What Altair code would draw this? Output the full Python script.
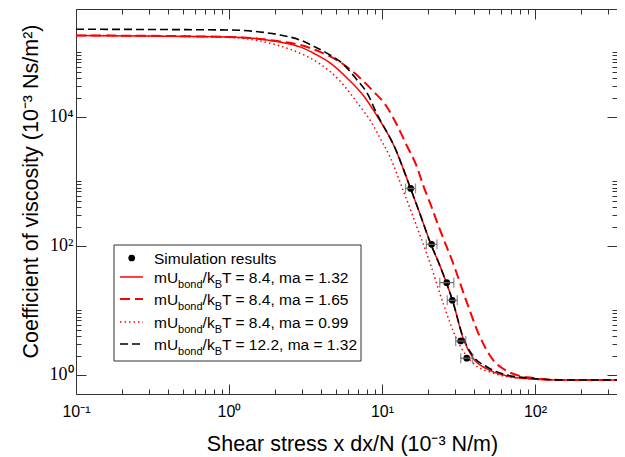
import altair as alt
import pandas as pd

# ---------------- data ----------------
sim_x = [15.4, 21.1, 26.5, 28.8, 32.7, 35.8]
sim_y = [779, 106, 27.0, 14.4, 3.37, 1.82]
sim_xlo = [14.25, 19.5, 23.85, 26.7, 30.3, 32.7]
sim_xhi = [16.55, 22.85, 29.45, 31.05, 35.25, 39.15]

solid_x = [0.1, 1, 1.594, 2.154, 2.911, 3.649, 4.573, 5.904, 7.512, 9.275, 12.16, 15.24,
           17.72, 20.60, 23.94, 29.11, 33.84, 39.34, 48.56, 65.61, 97.03, 145.7, 400]
solid_y = [1.84e5, 1.74e5, 1.62e5, 1.45e5, 1.22e5, 9.48e4, 6.88e4, 4.03e4, 2.19e4, 1.04e4,
           3310, 822, 313, 115, 49.0, 13.5, 3.75, 1.83, 1.24, 0.965, 0.867, 0.837, 0.835]

dash_x = [0.1, 1, 1.594, 2.154, 2.911, 3.934, 5.315, 7.181, 8.734, 10.78, 12.53, 14.57, 16.93,
          18.54, 20.60, 23.94, 29.11, 35.94, 43.71, 53.15, 65.61, 79.8, 97.03, 145.7, 400]
dash_y = [1.84e5, 1.74e5, 1.62e5, 1.48e5, 1.31e5, 1.02e5, 7.12e4, 4.03e4, 2.53e4, 1.43e4, 7510,
          3550, 1680, 883, 464, 177, 54.5, 13.1, 3.88, 1.71, 1.15, 0.965, 0.899, 0.837, 0.835]

dot_x = [0.1, 1, 1.594, 2.154, 2.783, 3.934, 5.315, 6.464, 7.743, 8.349, 9.703, 11.28, 13.72,
         17.19, 20.60, 25.04, 30.92, 39.34, 53.15, 76.27, 145.7, 400]
dot_y = [1.84e5, 1.71e5, 1.51e5, 1.26e5, 1.02e5, 6.63e4, 3.61e4, 2.04e4, 1.15e4, 8980, 4720,
         2400, 738, 177, 54.5, 13.1, 3.49, 1.53, 1.07, 0.899, 0.837, 0.835]

black_x = [0.1, 1, 1.594, 2.154, 2.911, 3.649, 4.573, 5.561, 6.864, 7.980, 9.275, 12.16, 15.24,
           17.72, 20.60, 23.94, 29.11, 33.84, 39.34, 48.56, 65.61, 97.03, 145.7, 400]
black_y = [2.29e5, 2.23e5, 2.08e5, 1.87e5, 1.56e5, 1.22e5, 9.15e4, 6.63e4, 3.75e4, 2.36e4,
           1.11e4, 3310, 822, 313, 115, 49.0, 13.5, 3.88, 1.97, 1.33, 1.0, 0.883, 0.837, 0.835]

ubond_vals = ["8.4", "8.4", "8.4", "12.2"]
ma_vals = ["1.32", "1.65", "0.99", "1.32"]
sim_label = "Simulation results"

x_major = [0.1, 1, 10, 100]
y_major = [1, 100, 10000]

# ---------------- layout ----------------
W, H = 541, 385
XMIN, XMAX = 0.1, 343.5
YMIN, YMAX = 0.507, 4.72e5
x_minor = [k * 10 ** e for e in (-1, 0, 1, 2) for k in range(2, 10) if k * 10 ** e <= XMAX]
y_minor = [k * 10 ** e for e in (0, 2, 4) for k in range(2, 11)]
x_ticks = x_major + x_minor
y_ticks = y_major + y_minor

xs = alt.Scale(type="log", domain=[XMIN, XMAX], nice=False)
ys = alt.Scale(type="log", domain=[YMIN, YMAX], nice=False)
AX = "#333333"
SANS = "Liberation Sans"

sim_df = pd.DataFrame({"x": sim_x, "y": sim_y, "xlo": sim_xlo, "xhi": sim_xhi})

x_tick_size = {"condition": {"test": "indexof([0.1,1,10,100], datum.value) >= 0", "value": 10}, "value": 5}
y_tick_size = {"condition": {"test": "indexof([1,100,10000], datum.value) >= 0", "value": 10}, "value": 5}


def invisible(xaxis, yaxis):
    return alt.Chart(sim_df).mark_point(opacity=0).encode(
        x=alt.X("x:Q", scale=xs, axis=xaxis),
        y=alt.Y("y:Q", scale=ys, axis=yaxis),
    )


main_axes = invisible(
    alt.Axis(orient="bottom", values=x_major, grid=False, ticks=False, tickSize=0,
             domain=True, domainColor=AX, domainWidth=1,
             labelExpr="datum.value < 0.5 ? '10⁻¹' : datum.value < 5 ? '10⁰' : datum.value < 50 ? '10¹' : '10²'",
             labelFont=SANS, labelFontSize=16, labelColor="black", labelPadding=9,
             labelFlush=False, labelOverlap=False,
             title="Shear stress x dx/N (10⁻³ N/m)", titleFont=SANS, titleFontSize=21.5,
             titleFontWeight="normal", titleColor="black", titleX=276, titleY=56,
             titleBaseline="alphabetic", titleAlign="center"),
    alt.Axis(orient="left", values=y_major, grid=False, ticks=False, tickSize=0,
             domain=True, domainColor=AX, domainWidth=1,
             labelExpr="datum.value < 10 ? '10⁰' : datum.value < 1000 ? '10²' : '10⁴'",
             labelFont="Liberation Serif", labelFontSize=18, labelColor="black", labelPadding=3,
             labelFlush=False, labelOverlap=False,
             title="Coefficient of viscosity (10⁻³ Ns/m²)", titleFont=SANS, titleFontSize=21.5,
             titleFontWeight="normal", titleColor="black", titleX=-39, titleY=182,
             titleBaseline="alphabetic", titleAlign="center", titleAngle=270),
)

ticks_in_a = invisible(
    alt.Axis(orient="top", offset=-H, values=x_ticks, grid=False, labels=False, domain=False,
             tickColor=AX, tickWidth=1, tickSize=x_tick_size, title=None),
    alt.Axis(orient="right", offset=-W, values=y_ticks, grid=False, labels=False, domain=False,
             tickColor=AX, tickWidth=1, tickSize=y_tick_size, title=None),
)
ticks_in_b = invisible(
    alt.Axis(orient="bottom", offset=-H, values=x_ticks, grid=False, labels=False, domain=True,
             domainColor=AX, domainWidth=1,
             tickColor=AX, tickWidth=1, tickSize=x_tick_size, title=None),
    alt.Axis(orient="left", offset=-W, values=y_ticks, grid=False, labels=False, domain=False,
             tickColor=AX, tickWidth=1, tickSize=y_tick_size, title=None),
)


def curve(xv, yv, color, dash, width):
    df = pd.DataFrame({"x": xv, "y": yv})
    kw = dict(color=color, strokeWidth=width, clip=True, interpolate="monotone")
    if dash:
        kw["strokeDash"] = dash
    return alt.Chart(df).mark_line(**kw).encode(
        x=alt.X("x:Q", scale=xs, axis=None),
        y=alt.Y("y:Q", scale=ys, axis=None),
    )


RED = "#ff0000"
STYLES = [  # color, dash, width  (solid, dashed, dotted, black dashed)
    (RED, None, 1.5),
    (RED, [10, 5], 2),
    (RED, [1.5, 3], 1.5),
    ("black", [8, 4], 1.6),
]

lines = [
    curve(dot_x, dot_y, *STYLES[2]),
    curve(dash_x, dash_y, *STYLES[1]),
    curve(solid_x, solid_y, *STYLES[0]),
    curve(black_x, black_y, *STYLES[3]),
]

EB = "#666666"
pts = alt.Chart(sim_df).mark_circle(size=45, color="black", opacity=1).encode(
    x=alt.X("x:Q", scale=xs, axis=None), y=alt.Y("y:Q", scale=ys, axis=None))
errbar = alt.Chart(sim_df).mark_rule(color=EB, strokeWidth=1.2).encode(
    x=alt.X("xlo:Q", scale=xs, axis=None), x2="xhi:Q", y=alt.Y("y:Q", scale=ys, axis=None))
cap_lo = alt.Chart(sim_df).mark_tick(orient="vertical", size=10, thickness=1.3, color=EB).encode(
    x=alt.X("xlo:Q", scale=xs, axis=None), y=alt.Y("y:Q", scale=ys, axis=None))
cap_hi = alt.Chart(sim_df).mark_tick(orient="vertical", size=10, thickness=1.3, color=EB).encode(
    x=alt.X("xhi:Q", scale=xs, axis=None), y=alt.Y("y:Q", scale=ys, axis=None))

# ---------------- custom legend (with subscripts) ----------------
one = pd.DataFrame({"a": [0]})
leg = [alt.Chart(one).mark_rect(fill="white", stroke=AX, strokeWidth=1).encode(
    x=alt.value(38), x2=alt.value(285), y=alt.value(236), y2=alt.value(352))]

rows = [249, 268, 290, 313, 335]
TX = 78
leg.append(alt.Chart(one).mark_circle(size=45, color="black", opacity=1).encode(
    x=alt.value(55.7), y=alt.value(rows[0])))
leg.append(alt.Chart(one).mark_text(text=sim_label, font=SANS, fontSize=15.5, align="left",
                                    baseline="alphabetic", color="black").encode(
    x=alt.value(TX), y=alt.value(rows[0] + 5.5)))


def txt(s, x, y, size):
    return alt.Chart(one).mark_text(text=s, font=SANS, fontSize=size, align="left",
                                    baseline="alphabetic", color="black").encode(
        x=alt.value(x), y=alt.value(y))


for i in range(4):
    ry = rows[i + 1]
    color, dash, width = STYLES[i]
    rkw = dict(color=color, strokeWidth=width)
    if dash:
        rkw["strokeDash"] = dash
    leg.append(alt.Chart(one).mark_rule(**rkw).encode(
        x=alt.value(44), x2=alt.value(67), y=alt.value(ry)))
    base = ry + 5.5
    sub = base + 5
    leg.append(txt("mU", TX, base, 15.5))
    leg.append(txt("bond", TX + 24.1, sub, 11))
    leg.append(txt("/k", TX + 48.6, base, 15.5))
    leg.append(txt("B", TX + 60.7, sub, 11))
    leg.append(txt(f"T = {ubond_vals[i]}, ma = {ma_vals[i]}", TX + 68.0, base, 15.5))

chart = alt.layer(
    main_axes, ticks_in_a, ticks_in_b, *lines, pts, errbar, cap_lo, cap_hi, *leg
).resolve_axis(x="independent", y="independent").properties(
    width=W, height=H,
    padding={"left": 68, "top": 1, "right": 0, "bottom": 62},
    autosize=alt.AutoSizeParams(type="none"),
).configure_view(strokeWidth=0)

chart.save("out.html", embed_options={"renderer": "svg", "actions": False})
